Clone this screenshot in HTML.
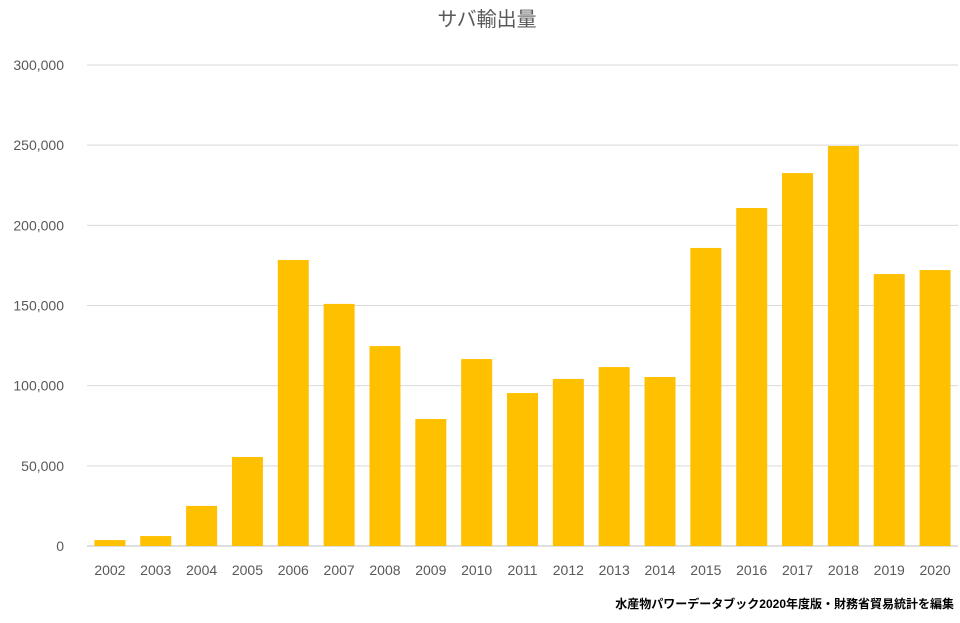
<!DOCTYPE html>
<html><head><meta charset="utf-8"><style>
body{margin:0;background:#fff;}
svg text{font-family:"Liberation Sans","Noto Sans CJK JP",sans-serif;}
</style></head><body>
<svg id="chart" width="960" height="618" xmlns="http://www.w3.org/2000/svg">
<rect width="960" height="618" fill="#fff"/>
<text x="487" y="26" text-anchor="middle" font-size="20" fill="#595959">サバ輸出量</text>
<g id="grid"></g><g id="yticks"></g><g id="bars"></g><g id="xticks"></g>
<text x="954" y="608" text-anchor="end" font-size="12" font-weight="bold" fill="#000">水産物パワーデータブック2020年度版・財務省貿易統計を編集</text>
</svg>
<script>
const categories=["2002","2003","2004","2005","2006","2007","2008","2009","2010","2011","2012","2013","2014","2015","2016","2017","2018","2019","2020"];
const values=[3700,6200,25000,55500,178400,151000,124700,79200,116600,95400,104200,111600,105400,185900,210800,232600,249500,169600,172100];
const yTicks=[0,50000,100000,150000,200000,250000,300000];
const yTickLabels=["0","50,000","100,000","150,000","200,000","250,000","300,000"];
const NS="http://www.w3.org/2000/svg";
const left=87,right=958,y0=546,yTop=65,yMax=300000;
const y=v=>y0-(v/yMax)*(y0-yTop);
const step=(right-left)/categories.length;
const x=i=>left+step*(i+0.5);
const bw=31;
function mk(t,a){const e=document.createElementNS(NS,t);for(const k in a)e.setAttribute(k,a[k]);return e;}
const grid=document.getElementById('grid'),yt=document.getElementById('yticks'),bars=document.getElementById('bars'),xt=document.getElementById('xticks');
yTicks.forEach((v,i)=>{
 const l=mk('line',{x1:left,x2:right,y1:y(v),y2:y(v),stroke:i===0?'#bfbfbf':'#d9d9d9','stroke-width':1});
 
 
 grid.appendChild(l);
 const t=mk('text',{x:64,y:y(v)+5,'text-anchor':'end','font-size':14,fill:'#595959'});
 t.textContent=yTickLabels[i];
 
 
 yt.appendChild(t);
});
categories.forEach((c,i)=>{
 const r=mk('rect',{x:x(i)-bw/2,y:y(values[i]),width:bw,height:y0-y(values[i]),fill:'#ffc000'});
 
 
 bars.appendChild(r);
 const t=mk('text',{x:x(i),y:575,'text-anchor':'middle','font-size':14,fill:'#595959'});
 t.textContent=c;
 
 
 xt.appendChild(t);
});
</script>
</body></html>
